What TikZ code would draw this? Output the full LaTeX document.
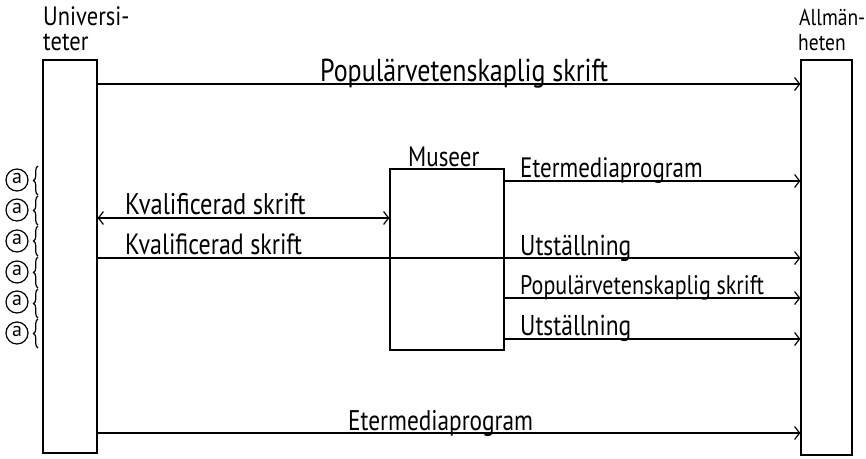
\documentclass[tikz,border=0pt]{standalone}
\usepackage{fontspec}
\setmainfont{PT Sans}
\usetikzlibrary{arrows.meta,decorations.pathreplacing}
\newcommand\tallt[1]{\scalebox{1}[1.22]{#1}}
\newcommand\tallh[1]{\scalebox{1}[1.18]{#1}}
\begin{document}
\begin{tikzpicture}[x=1pt,y=-1pt,
  box/.style={draw, line width=1.3pt, inner sep=0pt},
  flow/.style={line width=1.2pt, -{Straight Barb[length=5pt,width=13pt,line width=1.2pt]}},
  dflow/.style={line width=1.2pt, {Straight Barb[length=5pt,width=13pt,line width=1.2pt]}-{Straight Barb[length=5pt,width=13pt,line width=1.2pt]}},
  lab/.style={inner sep=0pt, anchor=base west, font=\fontsize{22}{26}\selectfont},
  circa/.style={inner sep=0pt, font=\fontsize{20}{20}\selectfont},
  ring/.style={line width=1.2pt},
  brc/.style={decorate, decoration={brace, amplitude=4.5pt}, line width=1.2pt}]
\useasboundingbox (0,0) rectangle (866,458);
% boxes
\node[box, minimum width=54pt, minimum height=393pt] (U) at (70,256.5) {};
\node[box, minimum width=51pt, minimum height=395pt] (A) at (826.5,257.5) {};
\node[box, minimum width=114pt, minimum height=181pt] (M) at (447,259.5) {};
% titles
\node[lab, font=\fontsize{22.5}{23}\selectfont] (tU1) at (43,25) {\tallh{Universi-}};
\node[lab, font=\fontsize{22.5}{23}\selectfont] (tU2) at (43,50) {\tallh{teter}};
\node[lab, font=\fontsize{19.5}{23}\selectfont] (tA1) at (799,25) {\tallh{Allmän-}};
\node[lab, font=\fontsize{19.5}{23}\selectfont] (tA2) at (798,50) {\tallh{heten}};
\node[lab, font=\fontsize{23}{26}\selectfont] (tM) at (408,166) {\tallt{Museer}};
% level coordinates
\coordinate (y1) at (0,84);
\coordinate (y2) at (0,181);
\coordinate (y3) at (0,218);
\coordinate (y4) at (0,258);
\coordinate (y5) at (0,298);
\coordinate (y6) at (0,339);
\coordinate (y7) at (0,433);
% connectors
\draw[flow] (U.east |- y1) -- (A.west |- y1);
\draw[flow] (M.east |- y2) -- (A.west |- y2);
\draw[dflow] (U.east |- y3) -- (M.west |- y3);
\draw[flow] (U.east |- y4) -- (A.west |- y4);
\draw[flow] (M.east |- y5) -- (A.west |- y5);
\draw[flow] (M.east |- y6) -- (A.west |- y6);
\draw[flow] (U.east |- y7) -- (A.west |- y7);
% labels
\node[lab, font=\fontsize{26}{30}\selectfont] (l1) at (320,81) {\tallt{Populärvetenskaplig skrift}};
\node[lab, font=\fontsize{23}{26}\selectfont] (l2) at (520,177) {\tallt{Etermediaprogram}};
\node[lab, font=\fontsize{24.5}{28}\selectfont] (l3) at (125,214) {\tallt{Kvalificerad skrift}};
\node[lab, font=\fontsize{24}{28}\selectfont] (l4) at (125,254) {\tallt{Kvalificerad skrift}};
\node[lab, font=\fontsize{23.5}{28}\selectfont] (l5) at (520,255) {\tallt{Utställning}};
\node[lab, font=\fontsize{22}{26}\selectfont] (l6) at (520,294) {\tallt{Populärvetenskaplig skrift}};
\node[lab, font=\fontsize{23.5}{28}\selectfont] (l7) at (520,335) {\tallt{Utställning}};
\node[lab, font=\fontsize{23.3}{28}\selectfont] (l8) at (348,430) {\tallt{Etermediaprogram}};
% circled a with braces
\foreach \i/\yc/\ya/\yb in {1/180/166/195, 2/210/196/225, 3/241/226/256, 4/272/257/288, 5/302/289/318, 6/333/319/348} {
  \node[circa] (a\i) at (17,\yc-1.5) {a};
  \draw[ring] (17,\yc) circle[radius=11pt];
  \draw[brc] (38,\yb) -- (38,\ya);
}
\end{tikzpicture}
\end{document}
